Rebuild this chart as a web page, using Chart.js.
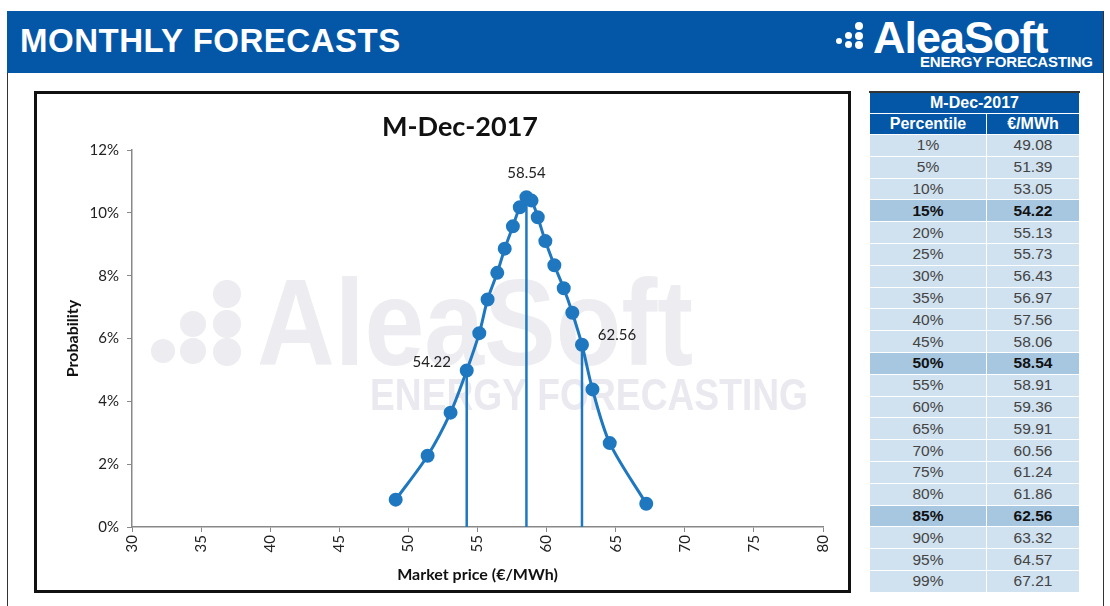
<!DOCTYPE html>
<html>
<head>
<meta charset="utf-8">
<script src="https://cdn.jsdelivr.net/npm/chart.js@4.4.1/dist/chart.umd.min.js"></script>
<style>
  body { margin: 0; background: #fff; width: 1110px; height: 606px; overflow: hidden; position: relative; font-family: "Liberation Sans", Arial, sans-serif; }
  #frame { position: absolute; left: 7px; top: 11px; width: 1095px; height: 600px; border: 1px solid #333; border-bottom: none; }
  #header { position: absolute; left: 7px; top: 11px; width: 1096px; height: 62px; background: #0457a7; }
  #title { position: absolute; left: 13px; top: 11px; line-height: 33px; color: #fff; font: bold 33px "Liberation Sans", Arial, sans-serif; letter-spacing: 0.5px; }
  #logo { position: absolute; left: 866px; top: 1px; color: #fff; font: bold 45px "Liberation Sans", Arial, sans-serif; letter-spacing: -1px; }
  #logosub { position: absolute; left: 913px; top: 42px; color: #fff; font: bold 15px "Liberation Sans", Arial, sans-serif; letter-spacing: -0.2px; }
  .dot { position: absolute; background: #fff; border-radius: 50%; }
  #box { position: absolute; left: 34px; top: 91px; width: 811px; height: 496px; border: 3px solid #111; background: #fff; }
  #tbl { position: absolute; left: 869px; top: 91px; width: 211px; border-collapse: collapse; font: 15.5px "Liberation Sans", Arial, sans-serif; color: #444; }
  #tbl td, #tbl th { padding: 0; text-align: center; border: 1px solid #fff; }
  #tbl th { background: #0457a7; color: #fff; font-weight: bold; height: 20px; font-size: 16px; }
  #tbl td { background: #d0e1ef; height: 20.8px; }
  #tbl tr.hl td { background: #a7c7e1; font-weight: bold; color: #111; }
  #tbl { border: 1px solid #555; border-top: 2px solid #333; }
</style>
</head>
<body>
<div id="frame"></div>
<div id="header">
  <div id="title">MONTHLY FORECASTS</div>
  <div class="dot" style="left:829px;top:27px;width:6px;height:6px"></div>
  <div class="dot" style="left:838px;top:21px;width:7px;height:7px"></div>
  <div class="dot" style="left:838px;top:30px;width:7px;height:7px"></div>
  <div class="dot" style="left:848px;top:11px;width:8px;height:8px"></div>
  <div class="dot" style="left:848px;top:21px;width:8px;height:8px"></div>
  <div class="dot" style="left:848px;top:30px;width:8px;height:8px"></div>
  <div id="logo">AleaSoft</div>
  <div id="logosub">ENERGY FORECASTING</div>
</div>
<div id="box"><canvas id="chart"></canvas></div>
<table id="tbl"></table>
<script>
// percentile table
const percentiles = ['1%','5%','10%','15%','20%','25%','30%','35%','40%','45%','50%','55%','60%','65%','70%','75%','80%','85%','90%','95%','99%'];
const prices = [49.08, 51.39, 53.05, 54.22, 55.13, 55.73, 56.43, 56.97, 57.56, 58.06, 58.54, 58.91, 59.36, 59.91, 60.56, 61.24, 61.86, 62.56, 63.32, 64.57, 67.21];
// probability in %
const probability = [0.87, 2.27, 3.64, 4.98, 6.17, 7.24, 8.09, 8.86, 9.57, 10.18, 10.50, 10.39, 9.86, 9.10, 8.33, 7.60, 6.82, 5.80, 4.38, 2.67, 0.74];
const marked = ['15%', '50%', '85%'];
const monthLabel = 'M-Dec-2017';
const xTicks = [30, 35, 40, 45, 50, 55, 60, 65, 70, 75, 80];
const yTicks = [0, 2, 4, 6, 8, 10, 12];

var tbl = document.getElementById('tbl');
var html = '<tr><th colspan="2">' + monthLabel + '</th></tr><tr><th>Percentile</th><th>€/MWh</th></tr>';
percentiles.forEach((p, i) => {
    html += '<tr' + (marked.includes(p) ? ' class="hl"' : '') + '><td style="width:116px">' + p + '</td><td>' + prices[i].toFixed(2) + '</td></tr>';
});
tbl.innerHTML = html;

const lineColor = '#1f78bf';
const font = 'Lato, sans-serif';
var curve = prices.map((x, i) => ({ x: x, y: probability[i] }));
var markIdx = marked.map(p => percentiles.indexOf(p));
var vlines = markIdx.map(i => ({
    data: [{ x: prices[i], y: 0 }, { x: prices[i], y: probability[i] }],
    borderColor: lineColor, borderWidth: 2.5, pointRadius: 0, tension: 0
}));

// watermark behind the plot + chart title (Excel puts it off-centre)
const watermark = {
    id: 'watermark',
    beforeDatasetsDraw(chart) {
        var ctx = chart.ctx;
        ctx.save();
        ctx.fillStyle = '#ececf1';
        [[126, 257, 12], [156, 230, 13], [156, 257, 13], [190, 200, 14], [190, 230, 14], [190, 258, 14]].forEach(d => {
            ctx.beginPath(); ctx.arc(d[0], d[1], d[2], 0, Math.PI * 2); ctx.fill();
        });
        ctx.font = 'bold 122px "Liberation Sans", Arial, sans-serif';
        ctx.fillText('AleaSoft', 220, 271, 436);
        ctx.fillStyle = '#e9e9ef';
        ctx.font = 'bold 44px "Liberation Sans", Arial, sans-serif';
        ctx.fillText('ENERGY FORECASTING', 333, 316, 438);
        ctx.fillStyle = '#111';
        ctx.font = 'bold 27px ' + font;
        ctx.textAlign = 'center';
        ctx.textBaseline = 'middle';
        ctx.fillText(monthLabel, 423, 33);
        ctx.restore();
    }
};

// value labels at the marked percentiles
const valueLabels = {
    id: 'valueLabels',
    afterDatasetsDraw(chart) {
        var ctx = chart.ctx, xs = chart.scales.x, ys = chart.scales.y;
        var offs = [[-35, -8], [0, -24], [35, -10]];
        ctx.save();
        ctx.font = '15px ' + font;
        ctx.fillStyle = '#222';
        ctx.textAlign = 'center';
        ctx.textBaseline = 'middle';
        markIdx.forEach((i, k) => {
            ctx.fillText(prices[i].toFixed(2), xs.getPixelForValue(prices[i]) + offs[k][0], ys.getPixelForValue(probability[i]) + offs[k][1]);
        });
        ctx.restore();
    }
};

var myChart = new Chart(document.getElementById('chart'), {
    type: 'line',
    data: {
        datasets: [{
            data: curve,
            borderColor: lineColor,
            backgroundColor: lineColor,
            borderWidth: 3,
            pointRadius: 5.5,
            pointHoverRadius: 5.5,
            tension: 0.3,
            fill: false
        }].concat(vlines)
    },
    options: {
        responsive: true,
        maintainAspectRatio: false,
        animation: false,
        layout: { padding: { left: 0, right: 25, top: 56, bottom: 0 } },
        plugins: {
            legend: { display: false },
            tooltip: { enabled: false },
            title: { display: false }
        },
        scales: {
            x: {
                type: 'linear',
                min: xTicks[0], max: xTicks[xTicks.length - 1],
                afterBuildTicks: s => { s.ticks = xTicks.map(v => ({ value: v })); },
                afterFit: s => { s.height = 63; },
                ticks: { color: '#222', font: { family: font, size: 15 }, minRotation: 90, maxRotation: 90, padding: 3 },
                grid: { drawOnChartArea: false, drawTicks: true, tickLength: 5, color: '#888' },
                border: { color: '#888', width: 1.5 },
                title: { display: true, text: 'Market price (€/MWh)', color: '#111', font: { family: font, size: 16, weight: 'bold' }, padding: { top: 0, bottom: 6 } }
            },
            y: {
                min: yTicks[0], max: yTicks[yTicks.length - 1],
                afterBuildTicks: s => { s.ticks = yTicks.map(v => ({ value: v })); },
                afterFit: s => { s.width = 95; },
                ticks: { color: '#222', font: { family: font, size: 15 }, padding: 8, callback: v => v + '%' },
                grid: { drawOnChartArea: false, drawTicks: true, tickLength: 5, color: '#888' },
                border: { color: '#888', width: 1.5 },
                title: { display: true, text: 'Probability', color: '#111', font: { family: font, size: 16, weight: 'bold' }, padding: { top: 26, bottom: 0 } }
            }
        }
    },
    plugins: [watermark, valueLabels]
});
</script>
</body>
</html>
